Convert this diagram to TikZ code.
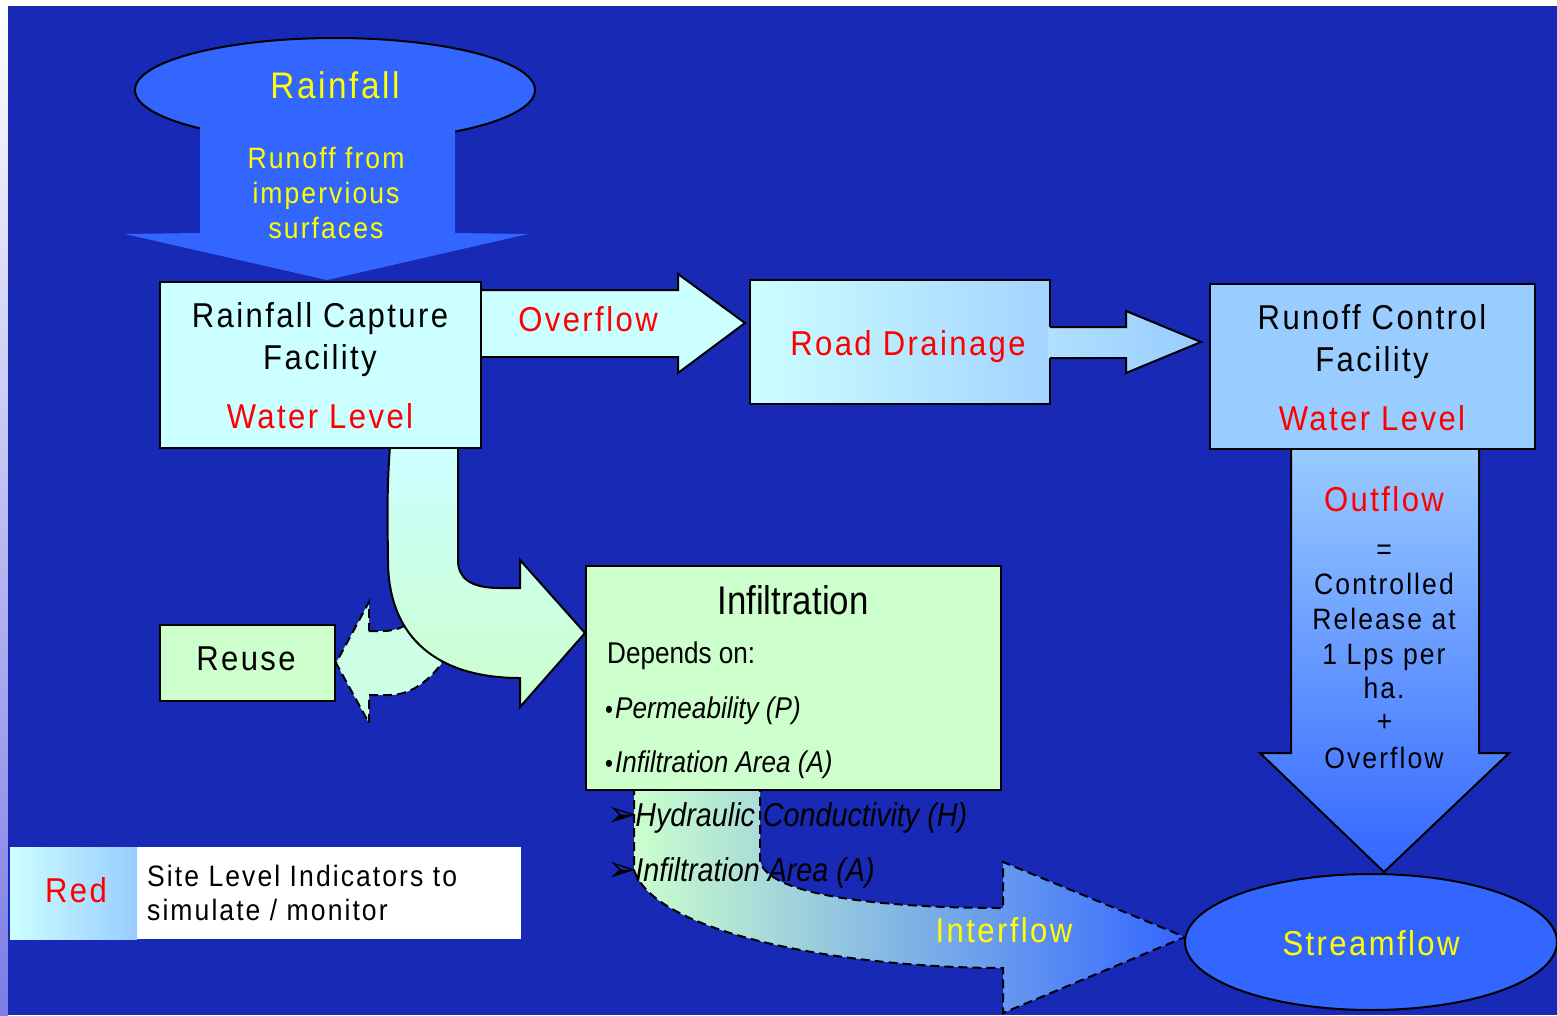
\documentclass[tikz,border=0pt]{standalone}
\usepackage{fontspec}
\setmainfont{Liberation Sans}
\newfontfamily\spc[FakeStretch=0.9,LetterSpace=7]{Liberation Sans}
\newfontfamily\nar[FakeStretch=0.87]{Liberation Sans}
\newfontfamily\dejavu{DejaVu Sans}
\usetikzlibrary{shapes.geometric}
\definecolor{bg}{HTML}{1829B5}
\definecolor{ltcyan}{HTML}{CCFFFF}
\definecolor{ltblue}{HTML}{99CCFF}
\definecolor{ltgreen}{HTML}{CCFFCC}
\definecolor{rblue}{HTML}{3366FF}
\definecolor{yel}{HTML}{FFFF00}
\definecolor{rd}{HTML}{FF0000}
\definecolor{lav}{HTML}{7C7CE6}
\definecolor{rdright}{HTML}{A3D3FF}
\begin{document}
\begin{tikzpicture}[x=1pt,y=-1pt,line join=miter,
  bx/.style={draw=black,line width=2pt,inner sep=0pt,outer sep=0pt},
  ln/.style={draw=black,line width=2pt},
  dsh/.style={draw=black,line width=2pt,dash pattern=on 9pt off 5pt},
  lbl/.style={anchor=base,inner sep=0pt},
  lblw/.style={anchor=base west,inner sep=0pt},
  fbig/.style={font=\spc\fontsize{34.5}{40}\selectfont},
  fsml/.style={font=\spc\fontsize{29.5}{34}\selectfont},
  fnar/.style={font=\nar\fontsize{30}{34}\selectfont},
]
\useasboundingbox (0,0) rectangle (1557,1015);
% background
\fill[white] (0,0) rectangle (1557,1015);
\shade[top color=white,bottom color=lav] (0,0) rectangle (8,1015);
\fill[bg] (8,6) rectangle (1557,1015);

% ---------- Rainfall ellipse + arrow
\node[ellipse,bx,fill=rblue,minimum width=400pt,minimum height=104pt] (rain) at (335,90) {};
\fill[rblue] (200,124) -- (455,124) -- (455,233) -- (528,234) -- (327,280) -- (125,234) -- (200,233) -- cycle;
\node[lbl,text=yel,font=\spc\fontsize{37}{42}\selectfont] (rainT) at (335,98) {Rainfall};
\node[lbl,fsml,text=yel] (run1) at (326,168) {Runoff from};
\node[lbl,fsml,text=yel] (run2) at (326,203) {impervious};
\node[lbl,fsml,text=yel] (run3) at (326,238) {surfaces};

% ---------- reuse arrow (dashed, behind)
\path[dsh,fill=ltcyan!50!ltgreen] (369,631) -- (383,631) .. controls (398,631) and (410,625) .. (420,612)
  -- (450,650) .. controls (435,678) and (412,695) .. (390,695) -- (369,695) -- (369,723) -- (336,663) -- (369,602) -- cycle;

% ---------- curved arrow capture -> infiltration
\path[ln,top color=ltcyan,bottom color=ltgreen] (390,446) .. controls (386,500) and (388,540) .. (388,560)
  .. controls (388,640) and (440,678) .. (520,678) -- (520,707) -- (585,633) -- (520,560) -- (520,588)
  -- (500,588) .. controls (470,588) and (458,578) .. (458,560) -- (458,446) -- cycle;

% ---------- overflow arrow
\path[ln,fill=ltcyan] (479,290) -- (678,290) -- (678,274) -- (745,323) -- (678,373) -- (678,357) -- (479,357) -- cycle;

% ---------- Rainfall Capture Facility
\node[bx,fill=ltcyan,minimum width=321pt,minimum height=166pt] (cap) at (320.5,365) {};
\node[lbl,fbig] (capA) at (320,327) {Rainfall Capture};
\node[lbl,fbig] (capB) at (320,369) {Facility};
\node[lbl,fbig,text=rd] (capC) at (320,428) {Water Level};
\node[lbl,fbig,text=rd] (ovT) at (588,331) {Overflow};

% ---------- Road drainage
\node[bx,left color=ltcyan,right color=rdright,minimum width=300pt,minimum height=124pt] (road) at (900,342) {};
\node[lbl,fbig,text=rd] (roadT) at (908,355) {Road Drainage};
\shade[left color=rdright!70!ltcyan,right color=ltblue] (1048,327) -- (1126,327) -- (1126,311) -- (1201,342) -- (1126,373) -- (1126,358) -- (1048,358) -- cycle;
\draw[line width=2pt] (1050,327) -- (1126,327) -- (1126,311) -- (1201,342) -- (1126,373) -- (1126,358) -- (1050,358);

% ---------- Outflow arrow
\path[ln,top color=ltblue,bottom color=rblue] (1291,447) -- (1479,447) -- (1479,753) -- (1509,753) -- (1384,872) -- (1260,753) -- (1291,753) -- cycle;

% ---------- Runoff Control Facility
\node[bx,fill=ltblue,minimum width=325pt,minimum height=165pt] (rcf) at (1372.5,366.5) {};
\node[lbl,fbig] (rcfA) at (1372,329) {Runoff Control};
\node[lbl,fbig] (rcfB) at (1372,371) {Facility};
\node[lbl,fbig,text=rd] (rcfC) at (1372,430) {Water Level};

\node[lbl,fbig,text=rd] (outT) at (1384,511) {Outflow};
\node[lbl,fsml] (outE) at (1384,559) {=};
\node[lbl,fsml] (out1) at (1384,594) {Controlled};
\node[lbl,fsml] (out2) at (1384,629) {Release at};
\node[lbl,fsml] (out3) at (1384,664) {1 Lps per};
\node[lbl,fsml] (out4) at (1384,698) {ha.};
\node[lbl,font=\spc\itshape\fontsize{29.5}{34}\selectfont] (outP) at (1384,731) {+};
\node[lbl,fsml] (out5) at (1384,768) {Overflow};

% ---------- Interflow arrow (dashed)
\path[dsh,left color=ltgreen,right color=rblue] (634,786) -- (634,870) .. controls (655,935) and (850,968) .. (1003,968)
  -- (1003,1013) -- (1185,937) -- (1003,862) -- (1003,908) .. controls (880,908) and (765,895) .. (760,860) -- (760,786) -- cycle;
\node[lbl,fbig,text=yel] (interT) at (1004,942) {Interflow};

% ---------- Streamflow
\node[ellipse,bx,fill=rblue,minimum width=372pt,minimum height=136pt] (stream) at (1371,942) {};
\node[lbl,fbig,text=yel] (streamT) at (1371,955) {Streamflow};

% ---------- Reuse
\node[bx,fill=ltgreen,minimum width=175pt,minimum height=76pt] (reuse) at (247.5,663) {};
\node[lbl,fbig] (reuseT) at (246,670) {Reuse};

% ---------- Infiltration
\node[bx,fill=ltgreen,minimum width=415pt,minimum height=224pt] (inf) at (793.5,678) {};
\node[lbl,font=\nar\fontsize{40}{44}\selectfont] (infT) at (793,614) {Infiltration};
\node[lblw,fnar] (inf1) at (607,663) {Depends on:};
\node[lblw,fnar] (inf2) at (605,718) {\fontsize{26}{30}\selectfont•\kern2pt\fontsize{30}{34}\selectfont\itshape Permeability (P)};
\node[lblw,fnar] (inf3) at (605,772) {\fontsize{26}{30}\selectfont•\kern2pt\fontsize{30}{34}\selectfont\itshape Infiltration Area (A)};
\node[lblw,fnar] (inf4) at (607,826) {{\dejavu\fontsize{36}{40}\selectfont ➢}\kern-2pt\itshape\fontsize{33}{36}\selectfont Hydraulic Conductivity (H)};
\node[lblw,fnar] (inf5) at (607,881) {{\dejavu\fontsize{36}{40}\selectfont ➢}\kern-2pt\itshape\fontsize{33}{36}\selectfont Infiltration Area (A)};

% ---------- Legend
\node[fill=white,inner sep=0pt,minimum width=511pt,minimum height=92pt] (legend) at (265.5,893) {};
\node[left color=ltcyan,right color=ltblue,inner sep=0pt,minimum width=127pt,minimum height=92pt] (swatch) at (73.5,893) {};
\node[lbl,fbig,text=rd] (redT) at (76,902) {Red};
\node[lblw,fsml] (leg1) at (147,886) {Site Level Indicators to};
\node[lblw,fsml] (leg2) at (147,920) {simulate / monitor};
\end{tikzpicture}
\end{document}
